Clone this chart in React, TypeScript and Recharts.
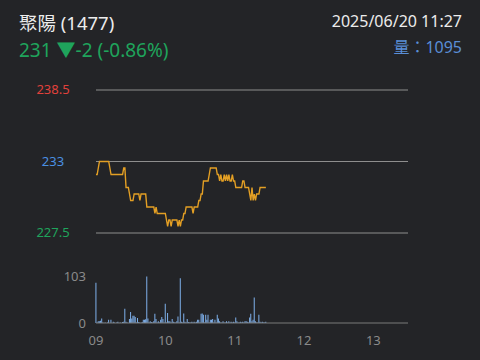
import React from "react";
import { ComposedChart, Line, Bar, XAxis, YAxis, CartesianGrid } from "recharts";

// minute index since 09:00, last sample 11:27
const PRICE = [
  232, 232, 232.5, 233, 233, 233, 233, 233, 233, 233,
  233, 233, 232.5, 232, 232, 232, 232, 232, 232, 232,
  232, 232, 232, 232, 232.5, 232.5, 231, 231, 231, 230.5,
  230, 230, 230, 230.5, 230.5, 230.5, 230.5, 230.5, 230, 230.5,
  230.5, 230.5, 230.5, 230.5, 229.5, 229.5, 229.5, 229.5, 229.5, 229.5,
  229.5, 229, 229.5, 229, 229, 229, 229, 229, 229, 229,
  229, 228.5, 228, 228.5, 228.5, 228, 228.5, 228.5, 228.5, 228.5,
  228.5, 228, 228.5, 228, 228.5, 228.5, 229, 229, 229.5, 229.5,
  229.5, 229.5, 229.5, 229.5, 229, 229.5, 229.5, 229.5, 229.5, 230,
  230, 230.5, 230.5, 231.5, 231.5, 231.5, 231.5, 231.5, 232, 232.5,
  232.5, 232.5, 232.5, 232.5, 232.5, 232, 232, 231.5, 232, 231.5,
  231.5, 232, 231.5, 232, 231.5, 232, 231.5, 231.5, 232, 231.5,
  231.5, 231, 231, 231, 231, 231, 231, 231.5, 231.5, 231,
  231, 231, 231, 230.5, 230, 231, 230, 230.5, 230, 230.5,
  230.5, 230.5, 231, 231, 231, 231, 231, 231,
];

const VOLUME = [
  88, 1, 4, 4, 5, 10, 1, 0, 1, 0,
  1, 7, 0, 7, 0, 3, 1, 0, 1, 3,
  0, 1, 0, 2, 3, 31, 3, 1, 0, 9,
  24, 10, 16, 16, 13, 1, 11, 2, 1, 0,
  2, 7, 7, 8, 102, 10, 1, 4, 2, 1,
  4, 20, 9, 1, 4, 1, 7, 13, 9, 1,
  42, 1, 22, 4, 4, 1, 9, 3, 1, 1,
  4, 14, 1, 98, 3, 1, 21, 3, 1, 9,
  2, 1, 1, 3, 1, 3, 1, 3, 7, 7,
  1, 20, 21, 18, 1, 18, 7, 18, 1, 7,
  7, 9, 1, 7, 1, 18, 10, 4, 1, 1,
  4, 1, 1, 4, 1, 4, 1, 3, 1, 3,
  1, 12, 4, 1, 1, 3, 1, 3, 1, 4,
  4, 3, 1, 12, 20, 4, 7, 56, 4, 1,
  1, 18, 3, 1, 3, 1, 1, 3,
];

const X_TICKS = [0, 60, 120, 180, 240];
const X_LABELS = ["09", "10", "11", "12", "13"];
const PRICE_TICKS = [227.5, 233, 238.5];
const PRICE_TICK_COLORS = ["#1fa45c", "#4a90e2", "#e0413b"];
const VOL_TICKS = [0, 103];

const data = PRICE.map((p, i) => ({ t: i, price: p, vol: VOLUME[i] }));

const FONT = '"Noto Sans", "Noto Sans CJK TC", sans-serif';

const PriceTick = (props: any) => {
  const { x, y, payload } = props;
  const idx = PRICE_TICKS.indexOf(payload.value);
  return (
    <text x={x - 35} y={y} dy={4} textAnchor="middle" fontSize={13} fontFamily={FONT} fill={PRICE_TICK_COLORS[idx]}>
      {payload.value}
    </text>
  );
};

export default function App() {
  return (
    <div style={{ position: "fixed", left: 0, top: 0, width: 480, height: 360, background: "#232427", fontFamily: FONT }}>
      <div style={{ position: "absolute", left: 19, top: 9, fontSize: 18.5, color: "#ececec" }}>聚陽 (1477)</div>
      <div style={{ position: "absolute", left: 19, top: 35, fontSize: 19, color: "#1fa45c" }}>231 ▼-2 (-0.86%)</div>
      <div style={{ position: "absolute", right: 18, top: 10, fontSize: 16, color: "#ececec" }}>2025/06/20 11:27</div>
      <div style={{ position: "absolute", right: 18, top: 34, fontSize: 16, color: "#5a8ed6" }}>量：1095</div>

      <div style={{ position: "absolute", left: 0, top: 0 }}>
        <ComposedChart width={480} height={250} data={data} margin={{ top: 90, right: 72, left: 16, bottom: 17 }}>
          <CartesianGrid vertical={false} stroke="#8e8e8e" horizontalValues={PRICE_TICKS} />
          <XAxis dataKey="t" type="number" domain={[0, 270]} hide />
          <YAxis
            domain={[227.5, 238.5]}
            ticks={PRICE_TICKS}
            width={80}
            axisLine={false}
            tickLine={false}
            tick={<PriceTick />}
          />
          <Line
            dataKey="price"
            type="linear"
            stroke="#e39f24"
            strokeWidth={1.4}
            dot={false}
            isAnimationActive={false}
          />
        </ComposedChart>
      </div>

      <div style={{ position: "absolute", left: 0, top: 259 }}>
        <ComposedChart width={480} height={100} data={data} margin={{ top: 17, right: 72, left: 16, bottom: 6 }}>
          <XAxis
            dataKey="t"
            type="number"
            domain={[0, 270]}
            ticks={X_TICKS}
            tickFormatter={(v: number) => X_LABELS[X_TICKS.indexOf(v)]}
            axisLine={{ stroke: "#7a7a7a" }}
            tickLine={false}
            tickMargin={7}
            tick={{ fill: "#8a8a8a", fontSize: 13, fontFamily: FONT }}
            interval={0}
          />
          <YAxis
            domain={[0, 103]}
            ticks={VOL_TICKS}
            width={80}
            axisLine={false}
            tickLine={false}
            tickMargin={4}
            tick={{ fill: "#8a8a8a", fontSize: 13, fontFamily: FONT }}
            interval={0}
          />
          <Bar dataKey="vol" fill="#7fb1ec" barSize={1} isAnimationActive={false} />
        </ComposedChart>
      </div>
    </div>
  );
}
